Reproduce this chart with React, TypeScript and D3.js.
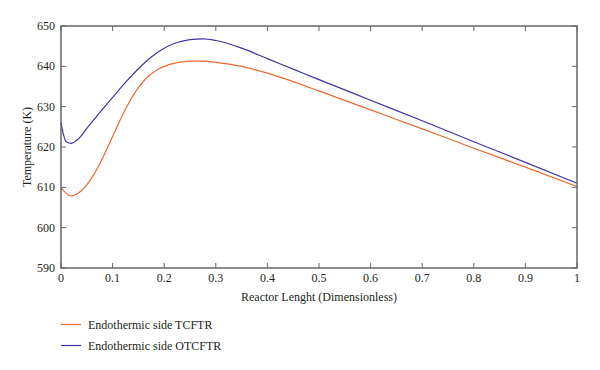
import React from "react";
import * as d3 from "d3";

const xsT = [0, 0.01, 0.02, 0.03, 0.04, 0.05, 0.06, 0.07, 0.08, 0.09, 0.1, 0.11, 0.12, 0.13, 0.14, 0.15, 0.16, 0.17, 0.18, 0.19, 0.2, 0.225, 0.25, 0.275, 0.3, 0.35, 0.4, 0.45, 0.5, 0.6, 0.7, 0.8, 0.9, 1.0];
const tcftr = [609.9, 608.5, 607.9, 608.3, 609.2, 610.6, 612.4, 614.6, 617.1, 619.8, 622.6, 625.4, 628.1, 630.6, 632.8, 634.7, 636.3, 637.6, 638.6, 639.4, 640.0, 640.9, 641.3, 641.3, 641.0, 640.0, 638.3, 636.2, 633.9, 629.2, 624.5, 619.7, 615.0, 610.2];
const xsO = [0, 0.01, 0.02, 0.03, 0.04, 0.05, 0.075, 0.1, 0.125, 0.15, 0.175, 0.2, 0.225, 0.25, 0.275, 0.3, 0.35, 0.4, 0.45, 0.5, 0.6, 0.7, 0.8, 0.9, 1.0];
const otcftr = [626, 621.3, 620.9, 621.6, 622.9, 624.6, 628.5, 632.3, 636.0, 639.4, 642.3, 644.5, 645.9, 646.6, 646.8, 646.4, 644.5, 641.9, 639.3, 636.7, 631.6, 626.5, 621.3, 616.2, 611];
const xTicks = [0, 0.1, 0.2, 0.3, 0.4, 0.5, 0.6, 0.7, 0.8, 0.9, 1];
const yTicks = [590, 600, 610, 620, 630, 640, 650];
const seriesNames = ["Endothermic side TCFTR", "Endothermic side OTCFTR"];
const seriesColors = ["#EA6B2D", "#3F35A0"];

const W = 600, H = 370;
const L = 61, R = 577, T = 26, B = 268;
const axisColor = "#666";
const textColor = "#231f20";
const font = "Liberation Serif, Times New Roman, DejaVu Serif, serif";

export default function App() {
  const x = d3.scaleLinear().domain([0, 1]).range([L, R]);
  const y = d3.scaleLinear().domain([590, 650]).range([B, T]);
  const mk = (xs: number[]) =>
    d3.line<number>().x((_, i) => x(xs[i])).y((d) => y(d)).curve(d3.curveMonotoneX);
  const series = [
    { xs: xsT, ys: tcftr },
    { xs: xsO, ys: otcftr },
  ];
  const tk = 5;
  return (
    <svg width={W} height={H} style={{ position: "fixed", left: 0, top: 0, background: "#fff", fontFamily: font }}>
      <rect x={0} y={0} width={W} height={H} fill="#fff" />
      {series.map((s, i) => (
        <path key={i} d={mk(s.xs)(s.ys) || ""} fill="none" stroke={seriesColors[i]} strokeWidth={1.2} />
      ))}
      <rect x={L} y={T} width={R - L} height={B - T} fill="none" stroke={axisColor} strokeWidth={1.5} />
      {xTicks.map((t) => (
        <g key={"x" + t}>
          <line x1={x(t)} x2={x(t)} y1={B} y2={B - tk} stroke={axisColor} strokeWidth={1} />
          <line x1={x(t)} x2={x(t)} y1={T} y2={T + tk} stroke={axisColor} strokeWidth={1} />
          <text x={x(t)} y={282} textAnchor="middle" fontSize={12} fill={textColor}>{String(t)}</text>
        </g>
      ))}
      {yTicks.map((t) => (
        <g key={"y" + t}>
          <line x1={L} x2={L + tk} y1={y(t)} y2={y(t)} stroke={axisColor} strokeWidth={1} />
          <line x1={R} x2={R - tk} y1={y(t)} y2={y(t)} stroke={axisColor} strokeWidth={1} />
          <text x={55} y={y(t) + 4} textAnchor="end" fontSize={12} fill={textColor}>{t}</text>
        </g>
      ))}
      <text x={(L + R) / 2} y={301} textAnchor="middle" fontSize={12} fill={textColor}>Reactor Lenght (Dimensionless)</text>
      <text transform={`translate(31,${(T + B) / 2}) rotate(-90)`} textAnchor="middle" fontSize={12} fill={textColor}>Temperature (K)</text>
      {seriesNames.map((n, i) => (
        <g key={n}>
          <line x1={61} x2={81} y1={324.5 + i * 21} y2={324.5 + i * 21} stroke={seriesColors[i]} strokeWidth={1.2} />
          <text x={88} y={328.5 + i * 21} fontSize={12} fill={textColor}>{n}</text>
        </g>
      ))}
    </svg>
  );
}
